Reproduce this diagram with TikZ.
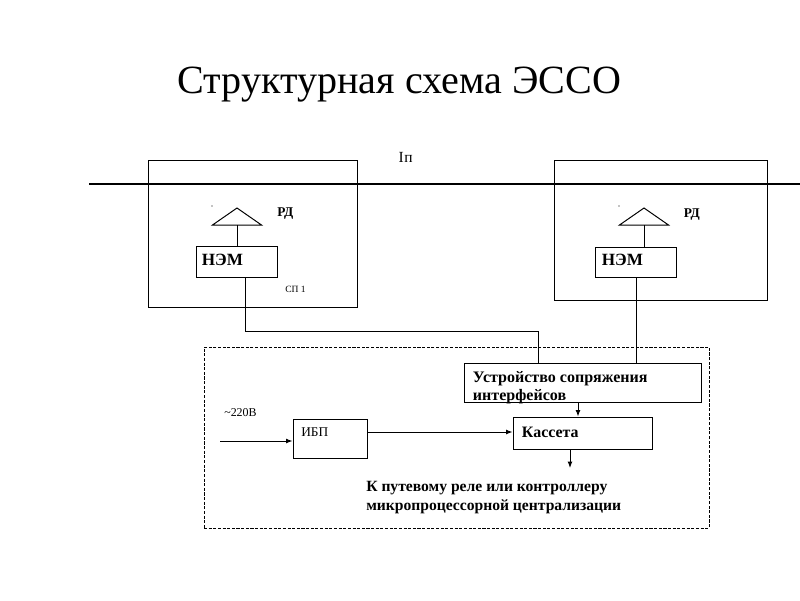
\documentclass[tikz,border=0pt]{standalone}
\usepackage{fontspec}
\setmainfont{Liberation Serif}
\usetikzlibrary{fit,calc,arrows.meta}
\tikzset{
  box/.style   = {draw, line width=0.7pt, inner sep=0pt},
  frame/.style = {draw, line width=0.6pt, dash pattern=on 2.2pt off 1.1pt, inner sep=0pt},
  wire/.style  = {line width=0.7pt},
  flow/.style  = {line width=0.7pt, -{Latex[length=4.5pt,width=3.4pt]}},
  bus/.style   = {line width=1.5pt},
  lbl/.style   = {anchor=base west, inner sep=0pt, align=left},
  bold/.style  = {lbl, font=\bfseries\fontsize{#1}{13}\selectfont},
  thin/.style  = {lbl, font=\fontsize{#1}{13}\selectfont},
}

\begin{document}
\begin{tikzpicture}[x=0.025cm, y=-0.025cm]
        \useasboundingbox (0,0) rectangle (800,600);
        \node[anchor=base, inner sep=0pt, font=\fontsize{28.5}{34}\selectfont] (title) at (399.4,93.3) {Структурная схема ЭССО};
        % line and the two track points
        \draw[bus] (89,184.3) -- (800,184.3);
        \node[thin=11] (ip) at (398.3,162.7) {I\kern0.5pt п};
        \node[box, fit={(148,160) (357,307)}] (sp1) {};
        \node[box, fit={(554,160) (767,300)}] (sp2) {};
        \node[thin=6.8] (sp1lbl) at (285,292.7) {СП 1};
        % receivers
        \coordinate (rd1) at (237,225);
        \coordinate (rd2) at (644,225);
        \draw[wire] (rd1) ++(-24.5,0) -- ++(24.5,-17) -- ++(24.5,17) -- cycle;
        \draw[wire] (rd2) ++(-24.5,0) -- ++(24.5,-17) -- ++(24.5,17) -- cycle;
        \fill (212,206) circle (0.6);
        \fill (619,206) circle (0.6);
        \node[bold=9.5] (rd1lbl) at (277,216) {РД};
        \node[bold=9.5] (rd2lbl) at (683.5,217) {РД};
        \node[box, fit={(196,246) (277,277)}] (nem1) {};
        \node[box, fit={(595,247) (676,277)}] (nem2) {};
        \node[bold=12.2] (nem1lbl) at (201.5,265.3) {НЭМ};
        \node[bold=12.2] (nem2lbl) at (601.5,265.3) {НЭМ};
        \draw[wire] (rd1) -- (rd1 |- nem1.north);
        \draw[wire] (rd2) -- (rd2 |- nem2.north);
        % equipment room
        \node[frame, fit={(204,347) (709,528)}] (room) {};
        \node[box, fit={(464,363) (701,402)}] (usi) {};
        \node[box, fit={(513,417) (652,449)}] (kas) {};
        \node[box, fit={(293,419) (367,458)}] (ibp) {};
        \node[bold=11.4] (usilbl) at (472.7,400) {Устройство сопряжения\\[-0.7pt]интерфейсов};
        \node[bold=11.3] (kaslbl) at (521.7,437.3) {Кассета};
        \node[thin=9.5] (ibplbl) at (301,436.7) {ИБП};
        \node[thin=8.5] (acl) at (224,416.7) {\char"007E 220В};
        \node[bold=11.1] (outlbl) at (366,510.7) {К путевому реле или контроллеру\\[0.5pt]микропроцессорной централизации};
        \coordinate (w1) at (245,331);
        \coordinate (w2) at (538,331);
        \coordinate (ac) at (220,441);
        \coordinate (out) at (570,468);
        \draw[wire] (nem1.south -| w1) -- (w1) -- (w2) -- (usi.north -| w2);
        \draw[wire] (nem2.south -| 636,0) -- (usi.north -| 636,0);
        \draw[flow] (usi.south -| 578,0) -- (kas.north -| 578,0);
        \draw[flow] (kas.south -| out) -- (out);
        \draw[flow] (ibp.east |- 0,432) -- (kas.west |- 0,432);
        \draw[flow] (ac) -- (ibp.west |- ac);
    \end{tikzpicture}
\end{document}
